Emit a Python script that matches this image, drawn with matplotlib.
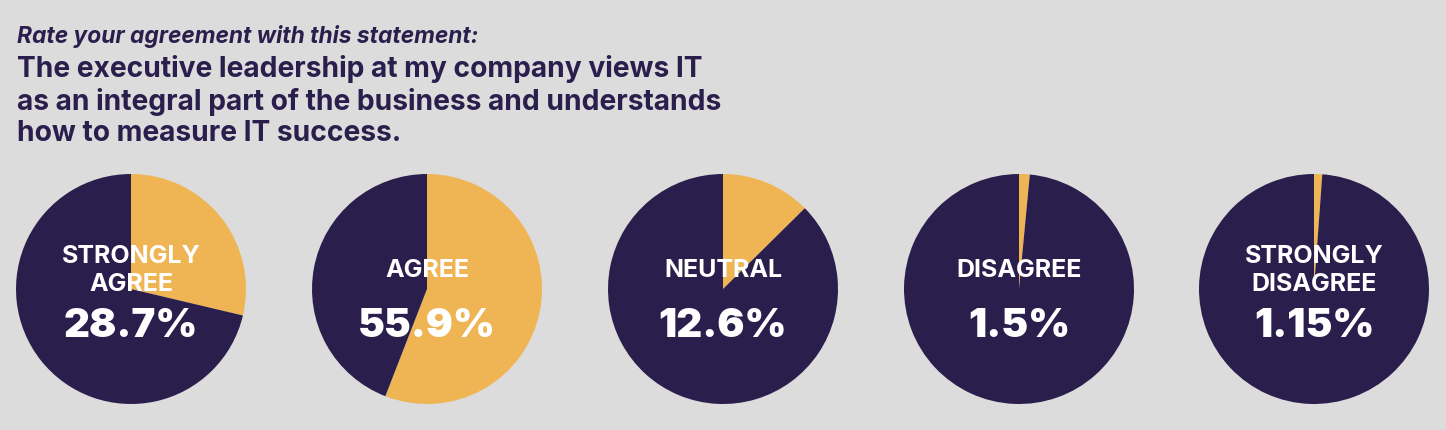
import matplotlib
matplotlib.use("Agg")
import matplotlib.pyplot as plt

# survey answers, share of respondents (%)
labels = ["STRONGLY\nAGREE", "AGREE", "NEUTRAL", "DISAGREE", "STRONGLY\nDISAGREE"]
values = [28.7, 55.9, 12.6, 1.5, 1.15]
value_text = ["28.7%", "55.9%", "12.6%", "1.5%", "1.15%"]

BG = "#dcdcdc"
NAVY = "#2a1f4c"
GOLD = "#efb555"
FONT = ["Inter", "DejaVu Sans"]

W, H = 1446, 430
fig = plt.figure(figsize=(W / 100, H / 100), dpi=100, facecolor=BG)

fig.text(17 / W, 1 - 37 / H, "Rate your agreement with this statement:",
         fontsize=16.4, style="italic", weight="bold", color=NAVY,
         family=FONT, va="center", ha="left")
fig.text(17 / W, 1 - 101 / H,
         "The executive leadership at my company views IT\n"
         "as an integral part of the business and understands\n"
         "how to measure IT success.",
         fontsize=20.3, weight="bold", color=NAVY, family=FONT,
         va="center", ha="left", linespacing=1.2)

centers = [131, 427, 723, 1019, 1314]
cy, r = 289, 115

for cx, lab, val, txt in zip(centers, labels, values, value_text):
    ax = fig.add_axes([(cx - r) / W, 1 - (cy + r) / H, 2 * r / W, 2 * r / H])
    ax.pie([val, 100 - val], colors=[GOLD, NAVY], startangle=90,
           counterclock=False, radius=1.0,
           wedgeprops=dict(linewidth=0))
    ax.set_xlim(-1, 1)
    ax.set_ylim(-1, 1)
    ax.set_aspect("equal")
    ax.axis("off")
    ax.text(0, 0.16, lab, ha="center", va="center",
            color="white", fontsize=18, weight="bold", family=FONT,
            linespacing=1.25)
    ax.text(0, -0.33, txt, ha="center", va="center", color="white",
            fontsize=29, weight=900, family=FONT)

fig.savefig("out.png", dpi=100, facecolor=BG)
